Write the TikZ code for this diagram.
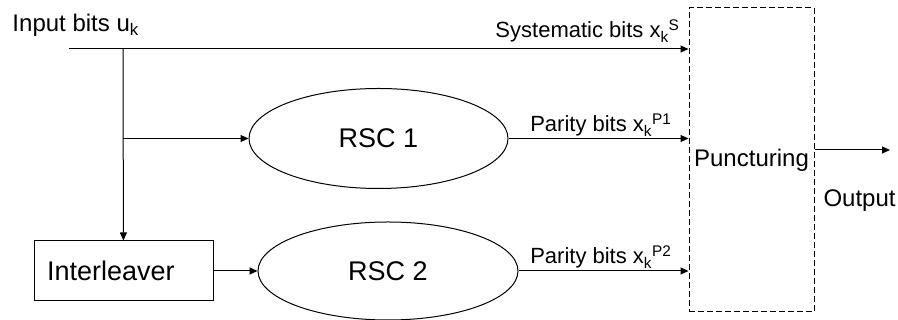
\documentclass[tikz,border=0pt]{standalone}
\usepackage{fontspec}
\setmainfont{Liberation Sans}
\usetikzlibrary{positioning,arrows,calc,shapes.geometric,arrows.meta}
\tikzset{
	turbo/.style={>={Triangle[length=8pt,width=7pt]},x=1pt,y=1pt,line width=1pt,
		font=\fontsize{27}{32}\selectfont},
	coder/.style={ellipse,draw,minimum width=259pt,minimum height=100pt,inner sep=0pt},
	block/.style={rectangle,draw,minimum width=179pt,minimum height=60pt,
		text width=153pt,align=left,inner xsep=13pt,inner ysep=0pt},
	punct/.style={rectangle,draw,dash pattern=on 6pt off 3pt,minimum width=125pt,
		minimum height=304pt,inner sep=0pt,font=\fontsize{24}{28}\selectfont},
	lbl/.style={font=\fontsize{22}{26}\selectfont,inner sep=0pt},
	txt/.style={font=\fontsize{24}{28}\selectfont,inner sep=0pt}
}

\begin{document}
\begin{tikzpicture}[turbo]
	\useasboundingbox (0,0) rectangle (898,320);
	
	\node[punct] (punc) at (751.5,160) {Puncturing};
	\node[coder] (rsc1) at (378.5,181.5) {RSC 1};
	\node[coder, minimum width=260pt, minimum height=98pt] (rsc2) at (388,49) {RSC 2};
	\node[block] (inter) at (123.5,49) {Interleaver};
	\node[txt, anchor=base west] (in) at (12,288) {Input bits u\textsubscript{k}};
	\node[txt, anchor=base west] (out) at (823,113) {Output};
	
	\coordinate (start) at (69,271);
	\coordinate (split) at (123,271);
	\coordinate (split1) at (123,181.5);
	\coordinate (end) at (890,170);
	
	\draw[->] (start) -- (start -| punc.west);
	\draw[->] (split) -- (inter);
	\draw[->] (split1) -- (rsc1);
	\draw[->] (inter) -- (rsc2);
	\draw[->] (rsc1) -- (rsc1 -| punc.west);
	\draw[->] (rsc2) -- (rsc2 -| punc.west);
	\draw[->] (punc.east |- end) -- (end);
	
	\node[lbl, anchor=base east] (xs) at (680,282) {Systematic bits x\textsubscript{k}\textsuperscript{S}};
	\node[lbl, anchor=base east] (xp1) at (672,188) {Parity bits x\textsubscript{k}\textsuperscript{P1}};
	\node[lbl, anchor=base east] (xp2) at (672,56) {Parity bits x\textsubscript{k}\textsuperscript{P2}};
\end{tikzpicture}
\end{document}
